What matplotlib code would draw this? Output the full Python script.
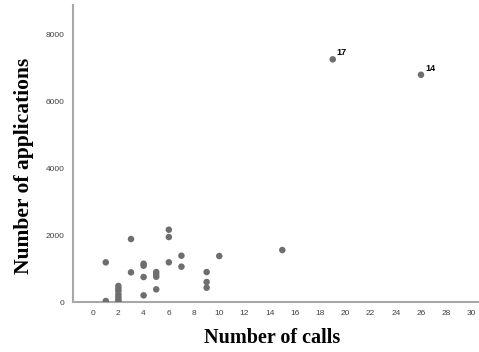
import matplotlib
matplotlib.use("Agg")
import matplotlib.pyplot as plt

calls = [1, 1, 2, 2, 2, 2, 2, 2, 2, 3, 3, 4, 4, 4, 4, 5, 5, 5, 5, 6, 6, 6, 7, 7, 9, 9, 9, 10, 15, 19, 26]
applications = [1185, 30, 480, 400, 330, 230, 150, 70, 20, 1880, 886, 1143, 1084, 746, 199,
                895, 826, 755, 378, 2159, 1940, 1185, 1383, 1055, 895, 597, 428, 1373, 1552, 7245, 6785]
labels = {29: "17", 30: "14"}
xticks = list(range(0, 31, 2))
yticks = [0, 2000, 4000, 6000, 8000]

plt.rcParams["font.family"] = ["Liberation Sans", "DejaVu Sans"]

fig = plt.figure(figsize=(4.79, 3.52), dpi=100)
ax = fig.add_axes([0.1524, 0.142, 0.8476, 0.844])
ax.scatter(calls, applications, s=22, color="#6e6e6e", edgecolors="none", zorder=3)
for i, t in labels.items():
    ax.annotate(t, (calls[i], applications[i]), xytext=(3, 3), textcoords="offset points",
                fontsize=6.5, fontweight="bold", color="black")

ax.set_xlim(-1.6, 30.6)
ax.set_ylim(0, 8870)
ax.set_xticks(xticks)
ax.set_yticks(yticks)
ax.tick_params(length=0, labelsize=6, labelcolor="#404040", pad=6)
for s in ["top", "right"]:
    ax.spines[s].set_visible(False)
for s in ["left", "bottom"]:
    ax.spines[s].set_color("#a8a8a8")
    ax.spines[s].set_linewidth(1.5)

fig.text(0.568, 0.04, "Number of calls", ha="center", va="center",
         fontsize=14.5, fontweight="bold", family="Liberation Serif")
fig.text(0.05, 0.528, "Number of applications", ha="center", va="center", rotation=90,
         fontsize=15.5, fontweight="bold", family="Liberation Serif")

fig.savefig("out.png", dpi=100)
